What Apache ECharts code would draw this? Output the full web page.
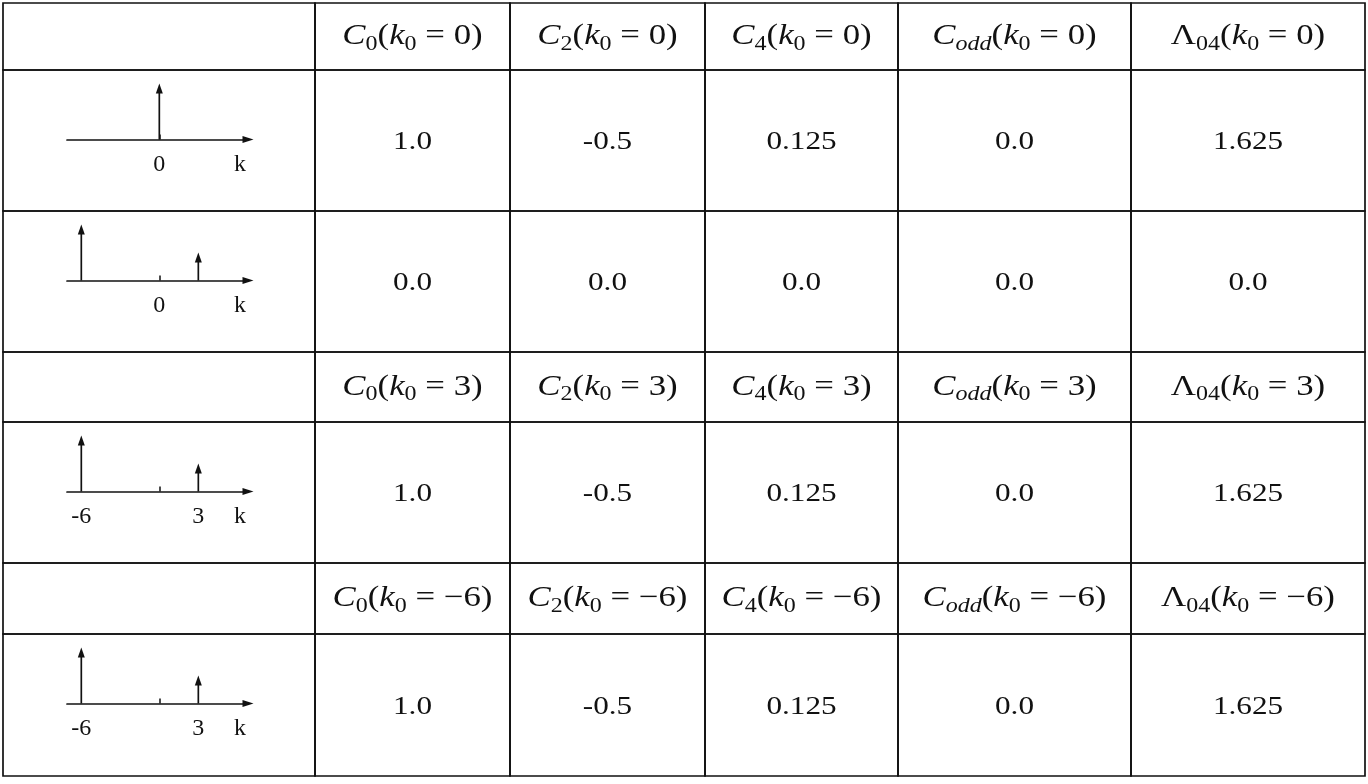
<!DOCTYPE html>
<html><head><meta charset="utf-8">
<script src="https://cdn.jsdelivr.net/npm/echarts@6/dist/echarts.min.js"></script>
<style>html,body{margin:0;padding:0;background:#fff}#c{width:1368px;height:784px}</style>
</head><body><div id="c"></div>
<script>
// ---------------- data ----------------
const quantitySymbols = ['C', 'C', 'C', 'C', 'Λ'];
const quantitySubscripts = ['0', '2', '4', 'odd', '04'];
const subscriptItalic = [false, false, false, true, false];
const blockK0 = [0, 3, -6];
const valuesK0a = [1.0, -0.5, 0.125, 0.0, 1.625];
const valuesK0b = [0.0, 0.0, 0.0, 0.0, 0.0];
const valuesK3 = [1.0, -0.5, 0.125, 0.0, 1.625];
const valuesKm6 = [1.0, -0.5, 0.125, 0.0, 1.625];
// stem diagrams (first column)
const stemK = [[0], [-6, 3], [-6, 3], [-6, 3]];
const stemAmp = [[1], [1, 0.5], [1, 0.5], [1, 0.5]];
const stemTickLabels = [[0], [0], [-6, 3], [-6, 3]];
const stemTicks = [[0], [0], [0], [0]];
const stemAxisName = 'k';

// ---------------- layout ----------------
const colEdges = [3, 315, 510, 705, 898, 1131, 1365];
const rowEdges = [3, 70, 211, 352, 422, 563, 634, 776];
const stemRows = [1, 2, 4, 6];
const kLabelAt = 6.2;
const INK = '#111';
const FONT = 'Liberation Serif';

const tableRows = [
  { header: 0 },
  { values: valuesK0a },
  { values: valuesK0b },
  { header: 1 },
  { values: valuesK3 },
  { header: 2 },
  { values: valuesKm6 }
];

function fmt(v) { return Number.isInteger(v) ? v.toFixed(1) : String(v); }
function k0Text(k) { return k < 0 ? '\u2212' + Math.abs(k) : String(k); }
function headerText(q, k0) {
  const sub = subscriptItalic[q] ? 'subi' : 'sub';
  const sym = quantitySymbols[q] === 'C' ? '{it|C}' : '{rm|' + quantitySymbols[q] + '}';
  return sym + '{' + sub + '|' + quantitySubscripts[q] + '}{rm|(}{it|k}{sub|0}{rm| = ' + k0Text(blockK0[k0]) + ')}';
}

const cells = [];
tableRows.forEach((row, r) => {
  for (let c = 0; c < 6; c++) {
    let text = '';
    if (c > 0) {
      if (row.header !== undefined) text = headerText(c - 1, row.header);
      else text = fmt(row.values[c - 1]);
    }
    cells.push({ c, r, text, header: row.header !== undefined });
  }
});

const rich = {
  it: { fontFamily: FONT, fontStyle: 'italic', fontSize: 29, lineHeight: 40, color: INK },
  rm: { fontFamily: FONT, fontSize: 29, lineHeight: 40, color: INK },
  sub: { fontFamily: FONT, fontSize: 20, lineHeight: 40, padding: [16, 0, 0, 0], color: INK },
  subi: { fontFamily: FONT, fontStyle: 'italic', fontSize: 20, lineHeight: 40, padding: [16, 0, 0, 0], color: INK }
};

const grids = [{ left: 0, top: 0, right: 0, bottom: 0 }];
const xAxes = [{ type: 'value', min: 0, max: 1368, show: false, gridIndex: 0 }];
const yAxes = [{ type: 'value', min: 0, max: 784, inverse: true, show: false, gridIndex: 0 }];

const series = [{
  type: 'custom',
  xAxisIndex: 0, yAxisIndex: 0,
  data: cells.map(d => [d.c, d.r]),
  renderItem: function (params, api) {
    const c = api.value(0), r = api.value(1);
    const p0 = api.coord([colEdges[c], rowEdges[r]]);
    const p1 = api.coord([colEdges[c + 1], rowEdges[r + 1]]);
    const cell = cells[params.dataIndex];
    const children = [{
      type: 'rect',
      shape: { x: p0[0], y: p0[1], width: p1[0] - p0[0], height: p1[1] - p0[1] },
      style: { fill: 'none', stroke: INK, lineWidth: 1.7 }
    }];
    if (cell.text) {
      children.push({
        type: 'text',
        x: (p0[0] + p1[0]) / 2,
        y: (p0[1] + p1[1]) / 2 + (cell.header ? 0 : 2),
        scaleX: 1.2,
        style: {
          text: cell.text, x: 0, y: 0, align: 'center', verticalAlign: 'middle',
          fill: INK, fontFamily: FONT, fontSize: 26, lineHeight: 40, rich: rich
        }
      });
    }
    return { type: 'group', children };
  }
}];

stemRows.forEach((tr, i) => {
  const axisY = rowEdges[tr] + 69.5;
  grids.push({ left: 67, width: 181, top: axisY - 56, height: 56 });
  const gi = i + 1;
  xAxes.push({
    gridIndex: gi, type: 'value', min: -7.1, max: 6.82,
    splitLine: { show: false },
    axisLine: { show: true, symbol: ['none', 'triangle'], symbolSize: [7, 11], lineStyle: { color: INK, width: 1.7 } },
    axisTick: { show: true, customValues: stemTicks[i], inside: true, length: 5, lineStyle: { color: INK, width: 1.5 } },
    axisLabel: {
      show: true, customValues: stemTickLabels[i].concat([kLabelAt]),
      formatter: v => (Math.abs(v - kLabelAt) < 1e-6 ? stemAxisName : (v < 0 ? '-' + Math.abs(v) : String(v))),
      margin: 13, color: INK, fontFamily: FONT, fontSize: 24
    }
  });
  yAxes.push({ gridIndex: gi, type: 'value', min: 0, max: 1, show: false, splitLine: { show: false } });
  series.push({
    type: 'custom', xAxisIndex: gi, yAxisIndex: gi,
    data: stemK[i].map((k, j) => [k, stemAmp[i][j]]),
    renderItem: function (params, api) {
      const b = api.coord([api.value(0), 0]);
      const t = api.coord([api.value(0), api.value(1)]);
      return {
        type: 'group', children: [
          { type: 'line', shape: { x1: b[0], y1: b[1], x2: t[0], y2: t[1] + 8 }, style: { stroke: INK, lineWidth: 1.7 } },
          { type: 'polygon', shape: { points: [[t[0], t[1]], [t[0] - 3.5, t[1] + 10], [t[0] + 3.5, t[1] + 10]] }, style: { fill: INK } }
        ]
      };
    }
  });
});

const chart = echarts.init(document.getElementById('c'), null, { renderer: 'canvas' });
chart.setOption({
  backgroundColor: '#fff',
  animation: false,
  grid: grids, xAxis: xAxes, yAxis: yAxes, series: series
});
</script></body></html>
